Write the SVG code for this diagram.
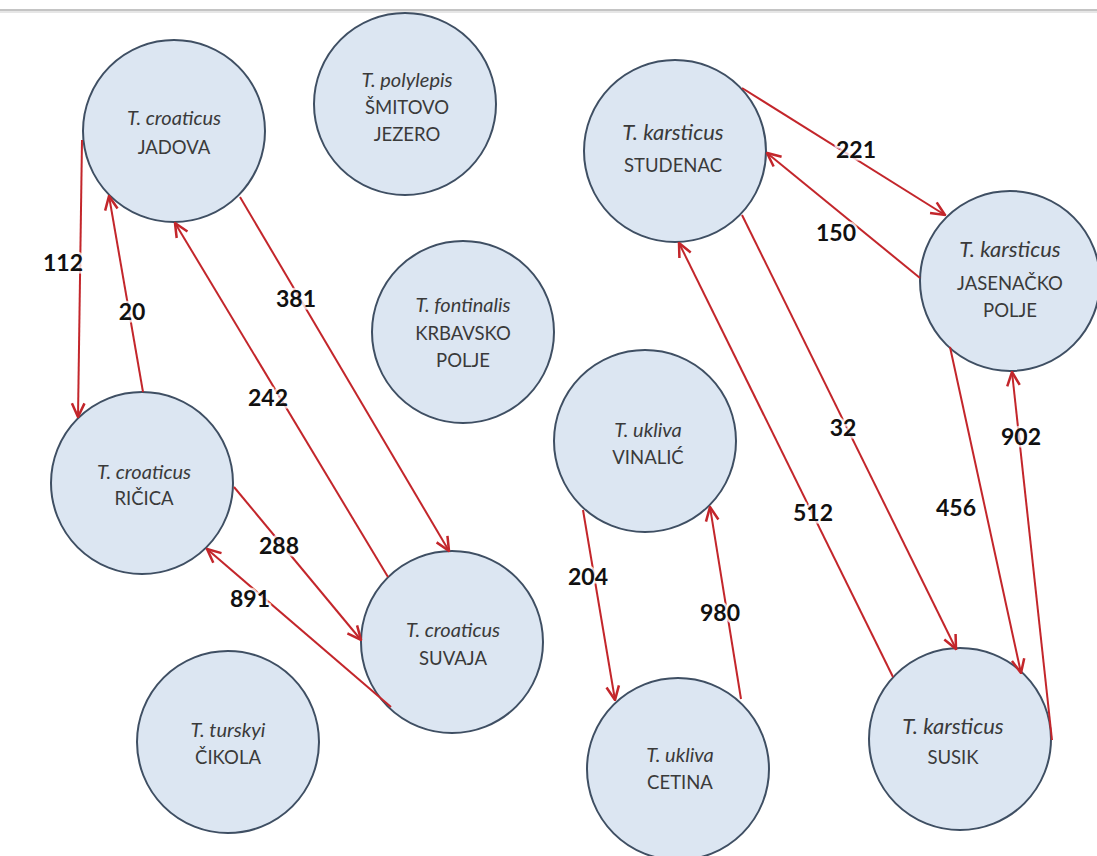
<svg xmlns="http://www.w3.org/2000/svg" width="1097" height="856" viewBox="0 0 1097 856">
<style>
.node circle{fill:#dce6f2;stroke:#3f4f63;stroke-width:2}
.sp{font-family:Lato,"Open Sans","Liberation Sans",sans-serif;font-style:italic;font-size:20px;fill:#3a3a3a;text-anchor:middle}
.spk{font-size:22px}
.loc{font-family:Lato,"Open Sans","Liberation Sans",sans-serif;font-size:18.5px;fill:#3a3a3a;text-anchor:middle}
.edges line{stroke:#c3262b;stroke-width:2;fill:none}
.lbl{font-family:Lato,"Open Sans","Liberation Sans",sans-serif;font-weight:bold;font-size:23px;fill:#111;text-anchor:middle;stroke:#fff;stroke-width:5;stroke-opacity:0.75;paint-order:stroke;stroke-linejoin:round}
</style>
<defs>
<marker id="arr" markerUnits="userSpaceOnUse" markerWidth="16" markerHeight="16" viewBox="0 0 14 14" refX="13" refY="7" orient="auto">
<path d="M1,1.5 L13,7 L1,12.5" fill="none" stroke="#c3262b" stroke-width="2.2" stroke-linejoin="miter"/>
</marker>
</defs>
<rect width="1097" height="856" fill="#fff"/>
<line x1="0" y1="10" x2="1097" y2="10" stroke="#c4c4c4" stroke-width="2"/>
<line x1="0" y1="12" x2="1097" y2="12" stroke="#e6e6e6" stroke-width="2"/>

<g id="jadova" class="node"><circle cx="174" cy="131" r="91"/><text class="sp" x="174" y="125">T. croaticus</text><text class="loc" x="174" y="154">JADOVA</text></g>
<g id="smitovo" class="node"><circle cx="405" cy="104" r="91"/><text class="sp" x="407" y="87">T. polylepis</text><text class="loc" x="407" y="114">ŠMITOVO</text><text class="loc" x="407" y="141">JEZERO</text></g>
<g id="krbavsko" class="node"><circle cx="463" cy="332" r="91"/><text class="sp" x="463" y="312">T. fontinalis</text><text class="loc" x="463" y="340">KRBAVSKO</text><text class="loc" x="463" y="367">POLJE</text></g>
<g id="ricica" class="node"><circle cx="142" cy="483" r="91"/><text class="sp" x="144" y="479">T. croaticus</text><text class="loc" x="144" y="505">RIČICA</text></g>
<g id="suvaja" class="node"><circle cx="452" cy="642" r="91"/><text class="sp" x="453" y="637">T. croaticus</text><text class="loc" x="453" y="665">SUVAJA</text></g>
<g id="cikola" class="node"><circle cx="228" cy="742" r="91"/><text class="sp" x="228" y="737">T. turskyi</text><text class="loc" x="228" y="764">ČIKOLA</text></g>
<g id="studenac" class="node"><circle cx="675" cy="151" r="91"/><text class="sp spk" x="673" y="140">T. karsticus</text><text class="loc" x="673" y="172">STUDENAC</text></g>
<g id="jasenacko" class="node"><circle cx="1010" cy="281" r="90"/><text class="sp spk" x="1010" y="257">T. karsticus</text><text class="loc" x="1010" y="290">JASENAČKO</text><text class="loc" x="1010" y="317">POLJE</text></g>
<g id="vinalic" class="node"><circle cx="645" cy="441" r="91"/><text class="sp" x="648" y="437">T. ukliva</text><text class="loc" x="648" y="464">VINALIĆ</text></g>
<g id="cetina" class="node"><circle cx="678" cy="769" r="91"/><text class="sp" x="680" y="762">T. ukliva</text><text class="loc" x="680" y="789">CETINA</text></g>
<g id="susik" class="node"><circle cx="960" cy="739" r="91"/><text class="sp spk" x="953" y="734">T. karsticus</text><text class="loc" x="953" y="764">SUSIK</text></g>

<g id="connectors" class="edges">
<line x1="82" y1="140" x2="78" y2="417" marker-end="url(#arr)"/>
<line x1="143" y1="392" x2="109" y2="196" marker-end="url(#arr)"/>
<line x1="388" y1="577" x2="175" y2="223" marker-end="url(#arr)"/>
<line x1="240" y1="197" x2="449" y2="551" marker-end="url(#arr)"/>
<line x1="234" y1="487" x2="361" y2="640" marker-end="url(#arr)"/>
<line x1="391" y1="707" x2="207" y2="549" marker-end="url(#arr)"/>
<line x1="742" y1="88" x2="945" y2="215" marker-end="url(#arr)"/>
<line x1="920" y1="278" x2="767" y2="153" marker-end="url(#arr)"/>
<line x1="742" y1="215" x2="956" y2="649" marker-end="url(#arr)"/>
<line x1="893" y1="677" x2="679" y2="243" marker-end="url(#arr)"/>
<line x1="950" y1="347" x2="1021" y2="673" marker-end="url(#arr)"/>
<line x1="1052" y1="740" x2="1012" y2="372" marker-end="url(#arr)"/>
<line x1="583" y1="510" x2="615" y2="700" marker-end="url(#arr)"/>
<line x1="741" y1="699" x2="710" y2="507" marker-end="url(#arr)"/>
</g>
<g id="labels">
<text class="lbl" x="63" y="271">112</text>
<text class="lbl" x="132" y="320">20</text>
<text class="lbl" x="296" y="307">381</text>
<text class="lbl" x="268" y="406">242</text>
<text class="lbl" x="279" y="554">288</text>
<text class="lbl" x="250" y="607">891</text>
<text class="lbl" x="856" y="158">221</text>
<text class="lbl" x="836" y="241">150</text>
<text class="lbl" x="843" y="436">32</text>
<text class="lbl" x="588" y="585">204</text>
<text class="lbl" x="720" y="621">980</text>
<text class="lbl" x="813" y="521">512</text>
<text class="lbl" x="956" y="516">456</text>
<text class="lbl" x="1021" y="445">902</text>
</g>
</svg>
